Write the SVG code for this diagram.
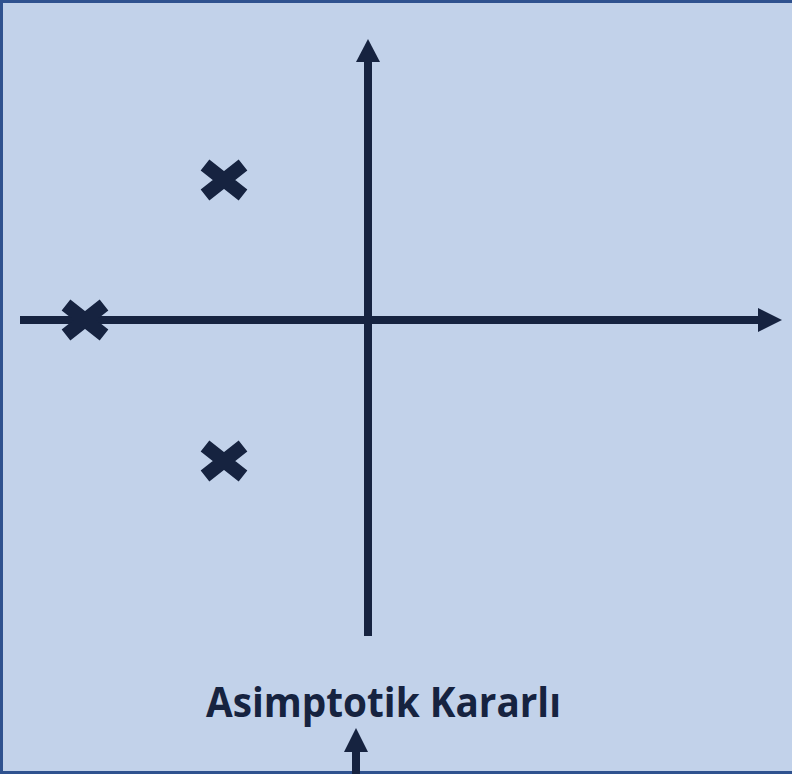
<svg xmlns="http://www.w3.org/2000/svg" width="792" height="776" viewBox="0 0 792 776">
  <defs>
    <style>
      .axis { stroke: #162340; stroke-width: 8; fill: none; }
      .head { fill: #162340; }
      .pole { stroke: #162340; stroke-width: 14; stroke-linecap: butt; fill: none; }
      .label { font-family: "Open Sans", "Liberation Sans", sans-serif; font-weight: bold; font-size: 41px; fill: #162340; }
    </style>
  </defs>
  <rect id="frame" x="1.5" y="1.5" width="796" height="771" fill="#c2d2ea" stroke="#2f528f" stroke-width="3"/>
  <g id="connectors">
    <line class="axis" x1="20" y1="320" x2="760" y2="320"/>
    <polygon class="head" points="758,308 782,320 758,332"/>
    <line class="axis" x1="368" y1="636" x2="368" y2="60"/>
    <polygon class="head" points="356,62 368,39 380,62"/>
    <line class="axis" x1="356" y1="774" x2="356" y2="750"/>
    <polygon class="head" points="344,752 356,728 368,752"/>
  </g>
  <g id="pole1">
    <path class="pole" d="M205,165 L243,195 M243,165 L205,195"/>
  </g>
  <g id="pole2">
    <path class="pole" d="M66,305 L104,335 M104,305 L66,335"/>
  </g>
  <g id="pole3">
    <path class="pole" d="M205,446 L243,476 M243,446 L205,476"/>
  </g>
  <g id="label">
    <text class="label" x="383.5" y="717" text-anchor="middle" textLength="355" lengthAdjust="spacingAndGlyphs">Asimptotik Kararlı</text>
  </g>
</svg>
